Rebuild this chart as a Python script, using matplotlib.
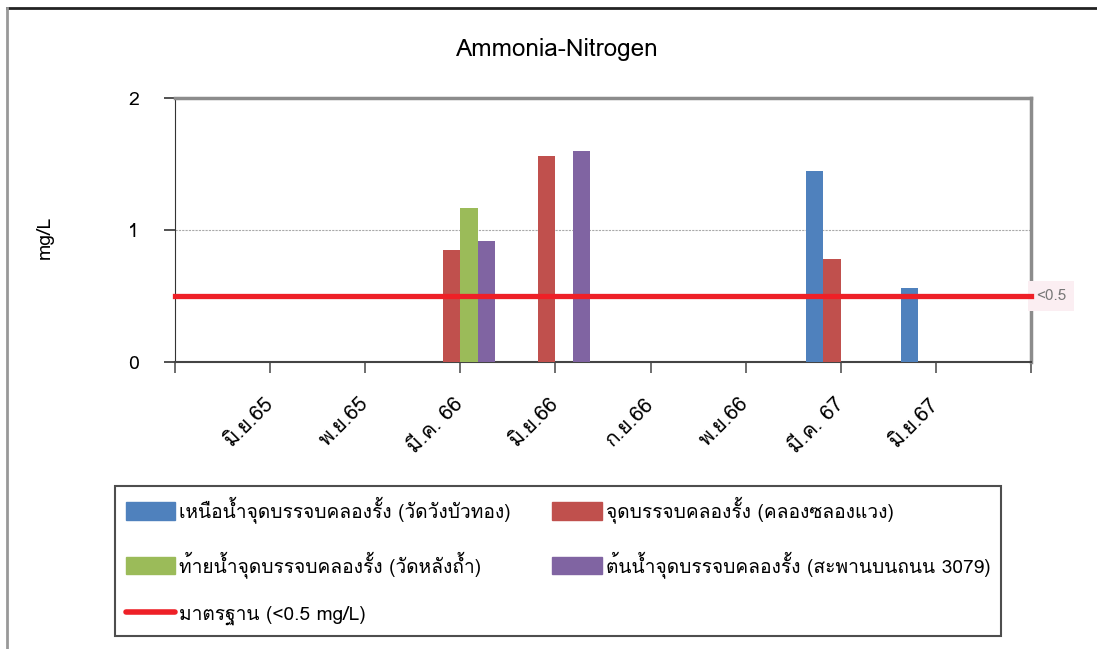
import numpy as np
import matplotlib
matplotlib.use("Agg")
import matplotlib.pyplot as plt
from matplotlib import font_manager
from matplotlib.ft2font import FT2Font
from matplotlib.patches import Patch
from matplotlib.lines import Line2D

# หาฟอนต์ที่มีตัวอักษรไทย
thai_font = None
for f in font_manager.fontManager.ttflist:
    try:
        if 0x0E01 in FT2Font(f.fname).get_charmap():
            thai_font = f.name
            break
    except Exception:
        pass
fams = ['DejaVu Sans']
if thai_font:
    fams = [thai_font, 'DejaVu Sans']
plt.rcParams['font.family'] = fams

months = ['มิ.ย.65', 'พ.ย.65', 'มี.ค. 66', 'มิ.ย.66', 'ก.ย.66', 'พ.ย.66', 'มี.ค. 67', 'มิ.ย.67']
upstream = [0, 0, 0, 0, 0, 0, 1.45, 0.56]      # เหนือน้ำ
outlet = [0, 0, 0.85, 1.56, 0, 0, 0.78, 0]     # จุดบรรจบ
downstream = [0, 0, 1.17, 0, 0, 0, 0, 0]       # ท้ายน้ำ
source = [0, 0, 0.92, 1.60, 0, 0, 0, 0]        # ต้นน้ำ
standard = 0.5

names = ['เหนือน้ำจุดบรรจบคลองรั้ง (วัดวังบัวทอง)',
         'จุดบรรจบคลองรั้ง (คลองซลองแวง)',
         'ท้ายน้ำจุดบรรจบคลองรั้ง (วัดหลังถ้ำ)',
         'ต้นน้ำจุดบรรจบคลองรั้ง (สะพานบนถนน 3079)',
         'มาตรฐาน (<0.5 mg/L)']
colors = ['#4f81bd', '#c0504d', '#9bbb59', '#8064a2']

fig = plt.figure(figsize=(10.97, 6.49), dpi=100)
ax = fig.add_axes([0.1595, 0.4422, 0.7803, 0.4068])

x = np.arange(1, len(months) + 1)
w = 0.184
series = [upstream, outlet, downstream, source]
for i, (s, c) in enumerate(zip(series, colors)):
    ax.bar(x + (i - 1.5) * w, s, w, color=c, edgecolor='none', zorder=3)

ax.plot([0, 9], [standard, standard], color='#ee2027', lw=3.8, zorder=4, clip_on=False)
ax.text(9.05, standard, '<0.5', va='center', ha='left', fontsize=11, color='#777777',
        bbox=dict(boxstyle='square,pad=0.5', fc='#fbeef2', ec='none'), clip_on=False)

ax.set_xlim(0, 9)
ax.set_ylim(0, 2)
ax.set_yticks([0, 1, 2])
ax.set_xticks(np.arange(0, 10))
ax.set_xticklabels([''] + months + [''], rotation=45, ha='right', va='center',
                   rotation_mode='anchor', fontsize=15)
ax.tick_params(axis='x', length=8, width=1.2, color='#555555', pad=20)
ax.tick_params(axis='y', length=8, width=1.2, color='#333333', labelsize=14, pad=18)
ax.axhline(1, color='#aaaaaa', lw=0.8, ls=(0, (2, 1)), zorder=1)

for side in ['top', 'right']:
    ax.spines[side].set_color('#8c8c8c')
    ax.spines[side].set_linewidth(2.5)
ax.spines['left'].set_color('#333333')
ax.spines['bottom'].set_color('#444444')
ax.spines['bottom'].set_linewidth(1.5)

fig.text(0.041, 0.635, 'mg/L', rotation=90, ha='center', va='center', fontsize=14)
fig.text(0.508, 0.924, 'Ammonia-Nitrogen', ha='center', va='center', fontsize=17.5)

# กรอบรูป
fig.add_artist(Line2D([0.0064, 1.0], [0.988, 0.988], color='#222222', lw=2, transform=fig.transFigure))
fig.add_artist(Line2D([0.0064, 0.0064], [0.0, 0.988], color='#999999', lw=2, transform=fig.transFigure))

handles = [Patch(color=colors[0]), Patch(color=colors[2]),
           Line2D([], [], color='#ee2027', lw=4, solid_capstyle='round'),
           Patch(color=colors[1]), Patch(color=colors[3])]
labels = [names[0], names[2], names[4], names[1], names[3]]
leg = fig.legend(handles, labels, ncol=2, loc='upper left',
                 bbox_to_anchor=(0.1048, 0.0139, 0.8077, 0.2373), mode='expand',
                 fontsize=13.8, handlelength=2.6, handleheight=1.0, handletextpad=0.2,
                 labelspacing=1.42, borderaxespad=0, borderpad=0.55, fancybox=False,
                 columnspacing=1.9)
leg.get_frame().set_edgecolor('#222222')
leg.get_frame().set_linewidth(1.5)

fig.savefig('out.png', dpi=100)
